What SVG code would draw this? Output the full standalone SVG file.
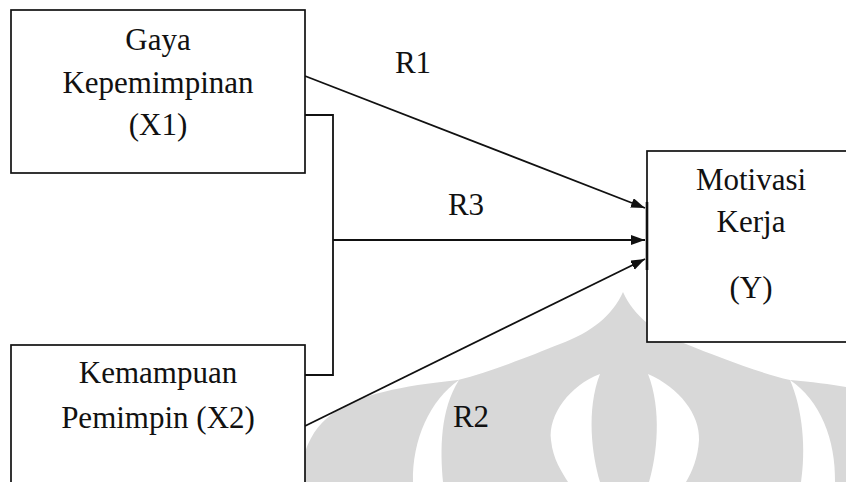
<svg xmlns="http://www.w3.org/2000/svg" width="846" height="482" viewBox="0 0 846 482">
  <style>
    .box { fill: #ffffff; stroke: #111111; stroke-width: 1.7; }
    .lbl { font-family: "Liberation Serif", "Times New Roman", serif; font-size: 31px; fill: #111111; text-anchor: middle; }
    .wire { fill: none; stroke: #111111; stroke-width: 1.8; }
    .mark { fill: #d8d8d8; }
    .gap { fill: #ffffff; }
  </style>
  <defs>
    <marker id="head" markerUnits="userSpaceOnUse" markerWidth="15" markerHeight="11" refX="14" refY="5" orient="auto">
      <path d="M0,0 L14,5 L0,10 Z" fill="#111111"/>
    </marker>
  </defs>

  <rect width="846" height="482" fill="#ffffff"/>

  <!-- background emblem -->
  <g id="emblem">
    <path class="mark" d="M300,482 L305,452 C312,432 322,420 338,410 C360,395 400,386 458,380 C490,372 530,356 560,344 C592,332 612,316 623,292 C634,316 654,332 686,344 C716,356 756,372 790,380 C812,382 830,384 846,387 L846,482 Z"/>
    <path class="gap" d="M459,380 C430,400 412,440 413,482 L443,482 C440,450 440,410 459,380 Z"/>
    <path class="gap" d="M790,380 C820,400 836,440 835,482 L801,482 C806,450 803,410 790,380 Z"/>
    <path class="gap" d="M600,374 C570,385 548,415 551,440 C553,460 562,472 568,482 L600,482 C592,455 586,410 600,374 Z"/>
    <path class="gap" d="M648,374 C680,388 700,415 699,440 C698,458 692,472 686,482 L649,482 C657,455 662,410 648,374 Z"/>
  </g>

  <!-- connectors -->
  <g id="connectors">
    <polyline class="wire" points="305,115 333,115 333,375 305,375"/>
    <line class="wire" x1="305" y1="76" x2="645" y2="208" marker-end="url(#head)"/>
    <line class="wire" x1="333" y1="240" x2="645" y2="240" marker-end="url(#head)"/>
    <line class="wire" x1="305" y1="426" x2="645" y2="259" marker-end="url(#head)"/>
    <text class="lbl" x="413" y="73">R1</text>
    <text class="lbl" x="466" y="215">R3</text>
    <text class="lbl" x="471" y="427">R2</text>
  </g>

  <g id="x1">
    <rect class="box" x="11" y="10" width="294" height="163"/>
    <text class="lbl" x="158" y="50">Gaya</text>
    <text class="lbl" x="158" y="93">Kepemimpinan</text>
    <text class="lbl" x="158" y="135">(X1)</text>
  </g>

  <g id="x2">
    <rect class="box" x="11" y="345" width="294" height="170"/>
    <text class="lbl" x="158" y="383">Kemampuan</text>
    <text class="lbl" x="158" y="428">Pemimpin (X2)</text>
  </g>

  <g id="y">
    <rect class="box" x="647" y="151" width="230" height="191"/>
    <line x1="647" y1="202" x2="647" y2="270" stroke="#111111" stroke-width="2.6"/>
    <text class="lbl" x="751" y="190">Motivasi</text>
    <text class="lbl" x="751" y="232">Kerja</text>
    <text class="lbl" x="751" y="298">(Y)</text>
  </g>
</svg>
